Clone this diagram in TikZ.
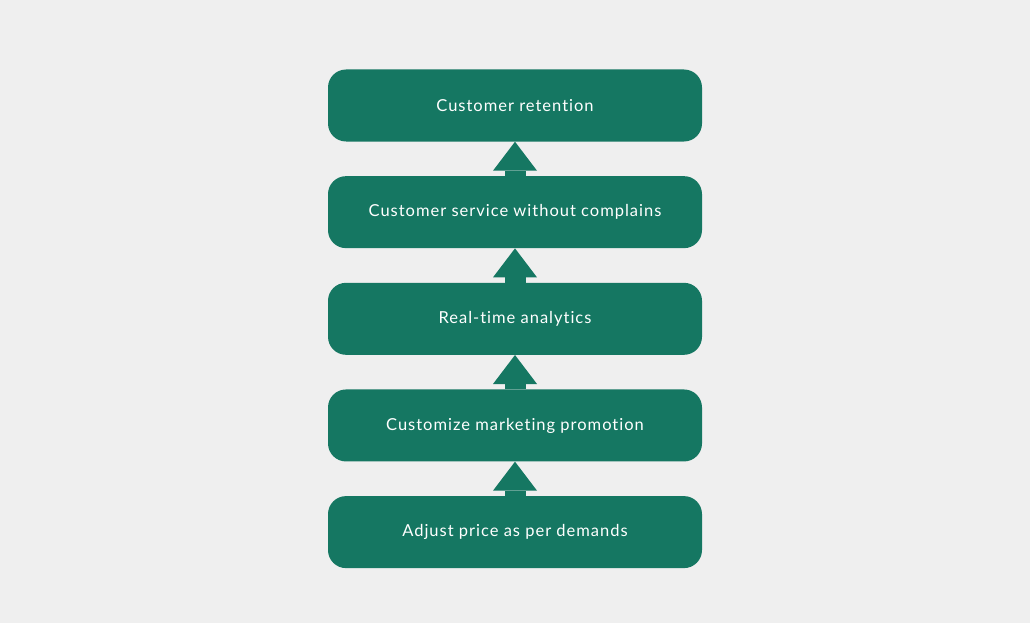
\documentclass[tikz,border=0pt]{standalone}
\usepackage{fontspec}
\setmainfont{Lato}[LetterSpace=6,Ligatures={NoCommon}]
\usetikzlibrary{positioning,arrows.meta}
\definecolor{stepgreen}{HTML}{157762}
\definecolor{bggray}{HTML}{EFEFEF}
\tikzset{stepbox/.style={fill=stepgreen,text=white,rounded corners=18pt,minimum width=374pt,minimum height=72pt,inner sep=0pt},
  uparrow/.style={stepgreen,line width=21pt,-{Triangle[width=44pt,length=29pt,line width=0pt]}}}
\begin{document}
\begin{tikzpicture}[x=1pt,y=1pt,font=\fontsize{16.5}{19}\selectfont,node distance=34.25pt]
			\fill[bggray](0,0)rectangle(1030,-623);
			\node[stepbox](retention)at(515,-105.5){Customer retention};
			\node[stepbox,below=of retention](service){Customer service without complains};
			\node[stepbox,below=of service](analytics){Real-time analytics};
			\node[stepbox,below=of analytics](promotion){Customize marketing promotion};
			\node[stepbox,below=of promotion](price){Adjust price as per demands};
			\foreach \a/\b in {price/promotion,promotion/analytics,analytics/service,service/retention}
			\draw[uparrow](\a.north)--(\b.south);
		\end{tikzpicture}
\end{document}
